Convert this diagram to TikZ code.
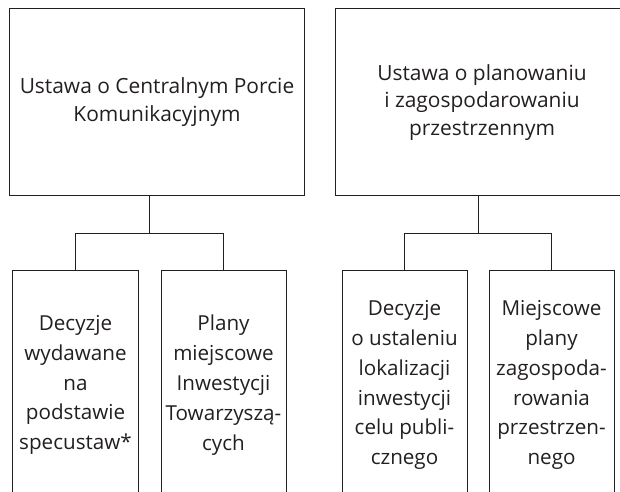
\documentclass[tikz,border=0pt]{standalone}
\usepackage{fontspec}
\setmainfont{Open Sans}
\usepackage{xcolor}
\usepackage{tikz}
\usetikzlibrary{positioning, calc}

\definecolor{inkgray}{HTML}{231F20}

\begin{document}
\begin{tikzpicture}[
    x=1bp, y=1bp,
    node distance=30bp,
    law_box/.style={rectangle, draw=inkgray, line width=1bp, minimum width=294bp, minimum height=187bp, align=center, inner sep=0pt, text=inkgray, font=\fontsize{21}{28}\selectfont},
    act_box/.style={rectangle, draw=inkgray, line width=1bp, minimum width=125bp, minimum height=228bp, align=center, inner sep=0pt, text=inkgray, font=\fontsize{20.7}{30}\selectfont},
    link/.style={draw=inkgray, line width=1bp}
]
\useasboundingbox (0,0) rectangle (620,492);
\clip (0,0) rectangle (620,492);

\node (lawA) [law_box] at (157,389.5) {Ustawa o Centralnym Porcie\\Komunikacyjnym};
\node (lawB) [law_box, right=of lawA] {Ustawa o planowaniu\\i zagospodarowaniu\\przestrzennym};

\node (decA) [act_box] at (75.5,107) {Decyzje\\wydawane\\na\\podstawie\\specustaw*};
\node (planA) [act_box, right=22bp of decA] {Plany\\miejscowe\\Inwestycji\\Towarzyszą-\\cych};
\node (decB) [act_box] at (404.5,107) {Decyzje\\o ustaleniu\\lokalizacji\\inwestycji\\celu publi-\\cznego};
\node (planB) [act_box, right=21bp of decB] {Miejscowe\\plany\\zagospoda-\\rowania\\przestrzen-\\nego};

% forks between the acts and their law
\coordinate (forkA) at ($(decA.north)!0.5!(planA.north)+(0,37)$);
\coordinate (forkB) at ($(decB.north)!0.5!(planB.north)+(0,37)$);
\draw [link] (forkA |- lawA.south) -- (forkA);
\draw [link] (decA.north) |- (forkA) -| (planA.north);
\draw [link] (forkB |- lawB.south) -- (forkB);
\draw [link] (decB.north) |- (forkB) -| (planB.north);
\end{tikzpicture}
\end{document}
